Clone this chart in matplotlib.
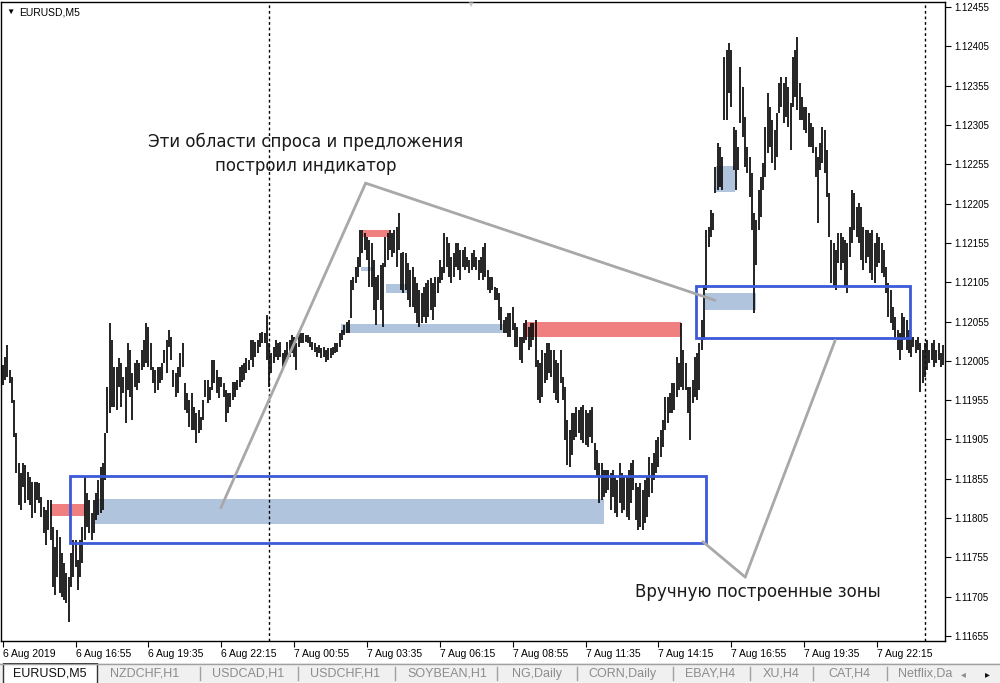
import matplotlib
matplotlib.use('Agg')
import matplotlib.pyplot as plt
from matplotlib.patches import Rectangle

# prices are stored as points (1e-5) above 1.10000
BASE = 1.10000
PT = 0.00001

HIGH_PTS = [
    2000, 2010, 2025, 1993, 1984, 1955, 1913, 1875, 1862, 1875,
    1873, 1864, 1857, 1851, 1851, 1851, 1850, 1832, 1819, 1815,
    1828, 1828, 1794, 1768, 1790, 1781, 1761, 1748, 1735, 1730,
    1761, 1777, 1777, 1752, 1777, 1794, 1857, 1837, 1828, 1811,
    1828, 1837, 1853, 1870, 1875, 1913, 1972, 2053, 2032, 1997,
    1997, 2009, 2002, 1984, 1997, 2028, 2019, 1990, 2002, 2006,
    2002, 2019, 2032, 2053, 2048, 2028, 1997, 1993, 1997, 1997,
    2002, 2019, 2032, 2044, 2035, 1993, 1990, 1997, 2015, 2028,
    1977, 1964, 1955, 1964, 1946, 1939, 1942, 1934, 1955, 1981,
    1981, 1972, 2006, 2006, 1993, 1984, 1984, 1977, 1968, 1964,
    1964, 1978, 1978, 1981, 1997, 2000, 2002, 2009, 2006, 2032,
    2032, 2029, 2032, 2040, 2042, 2040, 2063, 2028, 2015, 2023,
    2032, 2028, 2029, 2015, 2019, 2029, 2032, 2038, 2035, 2028,
    2040, 2040, 2040, 2038, 2038, 2035, 2029, 2028, 2023, 2025,
    2021, 2023, 2019, 2021, 2021, 2023, 2028, 2028, 2040, 2044,
    2051, 2054, 2057, 2108, 2112, 2124, 2137, 2171, 2171, 2168,
    2163, 2159, 2155, 2133, 2112, 2114, 2127, 2129, 2163, 2168,
    2171, 2168, 2171, 2175, 2193, 2142, 2143, 2142, 2129, 2121,
    2124, 2112, 2104, 2095, 2091, 2099, 2104, 2108, 2110, 2104,
    2112, 2112, 2133, 2124, 2168, 2163, 2155, 2137, 2142, 2155,
    2155, 2146, 2146, 2150, 2137, 2133, 2142, 2146, 2137, 2133,
    2137, 2150, 2155, 2121, 2112, 2112, 2099, 2098, 2091, 2073,
    2057, 2061, 2066, 2066, 2073, 2053, 2048, 2035, 2035, 2053,
    2057, 2048, 2053, 2053, 2057, 2006, 2002, 2019, 2015, 2028,
    2028, 2019, 2019, 2006, 2002, 2019, 1984, 1972, 1930, 1917,
    1939, 1939, 1946, 1942, 1946, 1949, 1942, 1939, 1942, 1946,
    1901, 1892, 1875, 1875, 1866, 1866, 1866, 1862, 1866, 1857,
    1853, 1875, 1862, 1857, 1857, 1866, 1875, 1879, 1850, 1845,
    1850, 1841, 1853, 1857, 1883, 1875, 1888, 1904, 1908, 1917,
    1930, 1959, 1959, 1964, 1977, 1977, 2010, 2002, 2053, 2019,
    2002, 1972, 1972, 1981, 2010, 2015, 2028, 2057, 2101, 2171,
    2175, 2197, 2193, 2252, 2282, 2277, 2264, 2391, 2400, 2409,
    2400, 2302, 2299, 2277, 2379, 2353, 2315, 2277, 2264, 2244,
    2193, 2184, 2222, 2239, 2257, 2302, 2346, 2328, 2311, 2299,
    2320, 2358, 2366, 2358, 2366, 2353, 2333, 2391, 2400, 2417,
    2358, 2341, 2328, 2328, 2320, 2308, 2302, 2277, 2264, 2282,
    2302, 2299, 2273, 2219, 2159, 2155, 2146, 2168, 2168, 2163,
    2159, 2155, 2175, 2222, 2219, 2201, 2206, 2201, 2175, 2171,
    2171, 2168, 2171, 2155, 2168, 2163, 2155, 2146, 2124, 2104,
    2095, 2073, 2061, 2044, 2040, 2066, 2061, 2057, 2044, 2035,
    2035, 2032, 2035, 2028, 2019, 2028, 2032, 2019, 2028, 2032,
    2019, 2028, 2015, 2025,
]

LOW_PTS = [
    1974, 1981, 1984, 1977, 1951, 1908, 1862, 1822, 1815, 1845,
    1824, 1828, 1822, 1805, 1811, 1828, 1824, 1806, 1786, 1771,
    1790, 1777, 1717, 1707, 1730, 1710, 1705, 1701, 1697, 1673,
    1717, 1730, 1743, 1714, 1730, 1748, 1777, 1794, 1786, 1777,
    1786, 1803, 1809, 1811, 1815, 1853, 1913, 1939, 1946, 1946,
    1942, 1972, 1946, 1964, 1926, 1968, 1959, 1930, 1972, 1968,
    1977, 1993, 1997, 2002, 1997, 1993, 1977, 1964, 1968, 1977,
    1981, 2002, 1990, 2023, 2006, 1972, 1959, 1964, 1984, 1997,
    1942, 1939, 1921, 1917, 1917, 1901, 1913, 1917, 1930, 1959,
    1951, 1955, 1968, 1977, 1964, 1958, 1972, 1959, 1927, 1939,
    1946, 1955, 1959, 1968, 1972, 1978, 1981, 1990, 1993, 2006,
    1997, 2010, 2015, 2023, 2028, 2028, 2006, 1972, 1990, 2002,
    2010, 2006, 2010, 1997, 2002, 2006, 2010, 2015, 2010, 1993,
    2023, 2028, 2028, 2029, 2028, 2023, 2019, 2016, 2010, 2015,
    2009, 2010, 2004, 2006, 2009, 2012, 2015, 2016, 2023, 2032,
    2038, 2040, 2040, 2060, 2095, 2104, 2112, 2124, 2142, 2146,
    2133, 2099, 2099, 2070, 2051, 2082, 2070, 2048, 2124, 2133,
    2146, 2137, 2142, 2124, 2146, 2095, 2091, 2095, 2082, 2073,
    2073, 2066, 2053, 2048, 2053, 2061, 2053, 2061, 2070, 2057,
    2073, 2091, 2104, 2108, 2117, 2124, 2112, 2104, 2112, 2124,
    2121, 2108, 2124, 2121, 2124, 2117, 2121, 2124, 2121, 2108,
    2117, 2108, 2112, 2095, 2091, 2095, 2082, 2082, 2057, 2044,
    2040, 2040, 2035, 2035, 2044, 2023, 2023, 2006, 2002, 2028,
    2032, 2019, 2023, 2032, 1997, 1955, 1951, 1959, 1977, 1981,
    1990, 1984, 1964, 1955, 1951, 1977, 1955, 1904, 1873, 1870,
    1885, 1904, 1908, 1913, 1904, 1901, 1898, 1895, 1908, 1901,
    1866, 1857, 1824, 1828, 1832, 1837, 1841, 1815, 1832, 1811,
    1806, 1824, 1811, 1815, 1806, 1803, 1824, 1841, 1803, 1790,
    1794, 1790, 1799, 1806, 1832, 1837, 1853, 1862, 1870, 1883,
    1895, 1917, 1926, 1939, 1939, 1942, 1959, 1968, 1972, 1968,
    1968, 1939, 1904, 1951, 1959, 1955, 1968, 2019, 2032, 2095,
    2150, 2163, 2171, 2219, 2222, 2226, 2222, 2311, 2311, 2346,
    2328, 2248, 2222, 2248, 2308, 2290, 2252, 2244, 2213, 2171,
    2066, 2127, 2171, 2188, 2222, 2239, 2269, 2277, 2257, 2248,
    2264, 2320, 2328, 2308, 2315, 2302, 2273, 2328, 2341, 2324,
    2311, 2311, 2299, 2295, 2277, 2277, 2269, 2239, 2180, 2248,
    2257, 2244, 2213, 2163, 2104, 2099, 2095, 2129, 2121, 2129,
    2099, 2091, 2137, 2155, 2171, 2163, 2155, 2133, 2121, 2129,
    2137, 2117, 2108, 2104, 2124, 2129, 2117, 2112, 2091, 2061,
    2053, 2044, 2032, 2019, 2006, 2019, 2032, 2019, 2015, 2010,
    2023, 2015, 2019, 1965, 1977, 1984, 1993, 2002, 2006, 1997,
    2002, 2006, 1997, 2000,
]

TIME_TICK_BARS = [0, 32, 64, 96, 128, 160, 192, 224, 256, 288, 320, 352, 384]
TIME_LABELS = ['6 Aug 2019', '6 Aug 16:55', '6 Aug 19:35', '6 Aug 22:15',
               '7 Aug 00:55', '7 Aug 03:35', '7 Aug 06:15', '7 Aug 08:55',
               '7 Aug 11:35', '7 Aug 14:15', '7 Aug 16:55', '7 Aug 19:35',
               '7 Aug 22:15']
SEPARATOR_BARS = [117, 405]
PRICE_TICKS = [1.11655, 1.11705, 1.11755, 1.11805, 1.11855, 1.11905, 1.11955,
               1.12005, 1.12055, 1.12105, 1.12155, 1.12205, 1.12255, 1.12305,
               1.12355, 1.12405, 1.12455]

# indicator zones: (first bar, last bar, low price, high price)
DEMAND_ZONES = [
    (40.5, 264.2, 1.11797, 1.11829),
    (157.2, 162.5, 1.12119, 1.12124),
    (168.2, 177.4, 1.12091, 1.12103),
    (148.4, 219.9, 1.12040, 1.12052),
    (308.5, 331.0, 1.12070, 1.12091),
    (313.4, 321.7, 1.12220, 1.12253),
]
SUPPLY_ZONES = [
    (21.2, 36.1, 1.11808, 1.11823),
    (158.1, 169.5, 1.12162, 1.12171),
    (229.6, 298.0, 1.12035, 1.12054),
]
# zones drawn by hand
MANUAL_BOXES = [
    (29.5, 309.0, 1.11773, 1.11858),
    (304.6, 398.5, 1.12034, 1.12100),
]

NOTE_TOP = 'Эти области спроса и предложения\nпостроил индикатор'
NOTE_TOP_AT = (133.0, 1.12268)
NOTE_TOP_LINES = [((159.4, 1.12231), (95.8, 1.11818)),
                  ((159.4, 1.12231), (312.9, 1.12082))]
NOTE_BOTTOM = 'Вручную построенные зоны'
NOTE_BOTTOM_AT = (331.8, 1.11711)
NOTE_BOTTOM_LINES = [((326.1, 1.11730), (307.5, 1.11775)),
                     ((326.1, 1.11730), (365.6, 1.12031))]

TABS = ['EURUSD,M5', 'NZDCHF,H1', 'USDCAD,H1', 'USDCHF,H1', 'SOYBEAN,H1',
        'NG,Daily', 'CORN,Daily', 'EBAY,H4', 'XU,H4', 'CAT,H4', 'Netflix,Da']
TAB_TEXT_X = [13, 110, 212, 310, 407, 512, 588, 685, 763, 828, 898]
TAB_SEP_X = [200, 298, 395, 497, 577, 673, 750, 813, 887]

UI_FONT = ['Liberation Sans', 'DejaVu Sans']

fig = plt.figure(figsize=(10, 6.83), dpi=100)
fig.patch.set_facecolor('white')

ax = fig.add_axes([0.001, 1 - 641 / 683, 0.944, 639 / 683])
ax.set_xlim(-0.75, 413.85)
ax.set_ylim(1.116487, 1.124614)

blue_fill = '#b0c4de'
red_fill = '#f08080'
for b0, b1, p0, p1 in DEMAND_ZONES:
    ax.add_patch(Rectangle((b0, p0), b1 - b0, p1 - p0, facecolor=blue_fill,
                           edgecolor='none', zorder=1))
for b0, b1, p0, p1 in SUPPLY_ZONES:
    ax.add_patch(Rectangle((b0, p0), b1 - b0, p1 - p0, facecolor=red_fill,
                           edgecolor='none', zorder=1))

# period separators
for b in SEPARATOR_BARS:
    ax.axvline(b, color='black', lw=1, ls=(0, (2, 2)), zorder=1.5)

# OHLC bars (high-low)
bars = list(range(len(HIGH_PTS)))
highs = [BASE + v * PT for v in HIGH_PTS]
lows = [BASE + v * PT for v in LOW_PTS]
ax.vlines(bars, lows, highs, color='#111111', lw=1.3, zorder=2)

for b0, b1, p0, p1 in MANUAL_BOXES:
    ax.add_patch(Rectangle((b0, p0), b1 - b0, p1 - p0, facecolor='none',
                           edgecolor='#3c5ad8', lw=2, zorder=3))

for (xa, ya), (xb, yb) in NOTE_TOP_LINES + NOTE_BOTTOM_LINES:
    ax.plot([xa, xb], [ya, yb], color='#a8a8a8', lw=2, zorder=4,
            solid_capstyle='round')

ax.text(*NOTE_TOP_AT, NOTE_TOP, ha='center', va='center', fontsize=12,
        color='#1a1a1a', linespacing=1.45, family='DejaVu Sans', zorder=5)
ax.text(*NOTE_BOTTOM_AT, NOTE_BOTTOM, ha='center', va='center', fontsize=12,
        color='#1a1a1a', family='DejaVu Sans', zorder=5)

ax.text(0.006, 0.983, '▼', transform=ax.transAxes, fontsize=6,
        family=UI_FONT, va='center', ha='left')
ax.text(0.019, 0.983, 'EURUSD,M5', transform=ax.transAxes, fontsize=7.5,
        family=UI_FONT, va='center', ha='left')

# axes styling like the terminal
for s in ax.spines.values():
    s.set_color('black')
    s.set_linewidth(1)
ax.yaxis.tick_right()
ax.set_yticks(PRICE_TICKS)
ax.set_yticklabels([f'{p:.5f}' for p in PRICE_TICKS])
ax.tick_params(axis='y', direction='out', length=4, pad=3, labelsize=7)
ax.set_xticks(TIME_TICK_BARS)
ax.set_xticklabels(TIME_LABELS)
ax.tick_params(axis='x', direction='out', length=4, pad=2, labelsize=7.5)
for lab in ax.get_xticklabels() + ax.get_yticklabels():
    lab.set_family(UI_FONT)
for lab in ax.get_xticklabels():
    lab.set_ha('left')

# chart shift marker
fig.text(0.470, 0.997, '▼', fontsize=6, color='#c8c8c8', ha='center',
         va='top', family=UI_FONT)

# tab strip at the bottom
tab = fig.add_axes([0, 0, 1, 20 / 683])
tab.set_xlim(0, 1000)
tab.set_ylim(20, 0)
tab.axis('off')
tab.add_patch(Rectangle((0, 0), 1000, 20, facecolor='#f0f0f0',
                        edgecolor='none'))
tab.plot([0, 1000], [0.5, 0.5], color='#a0a0a0', lw=1)
tab.add_patch(Rectangle((3, 0), 94, 21, facecolor='white', edgecolor='#333333',
                        lw=1))
for x in TAB_SEP_X:
    tab.plot([x, x], [4, 17], color='#a0a0a0', lw=1)
for i, (name, x) in enumerate(zip(TABS, TAB_TEXT_X)):
    tab.text(x, 11, name, fontsize=9, family=UI_FONT, va='center', ha='left',
             color='#111111' if i == 0 else '#8c8c8c')
tab.text(963, 11, '◂', fontsize=7, color='#8c8c8c', va='center', ha='center',
         family=UI_FONT)
tab.text(987, 11, '▸', fontsize=7, color='#111111', va='center', ha='center',
         family=UI_FONT)

fig.savefig('out.png', dpi=100)
